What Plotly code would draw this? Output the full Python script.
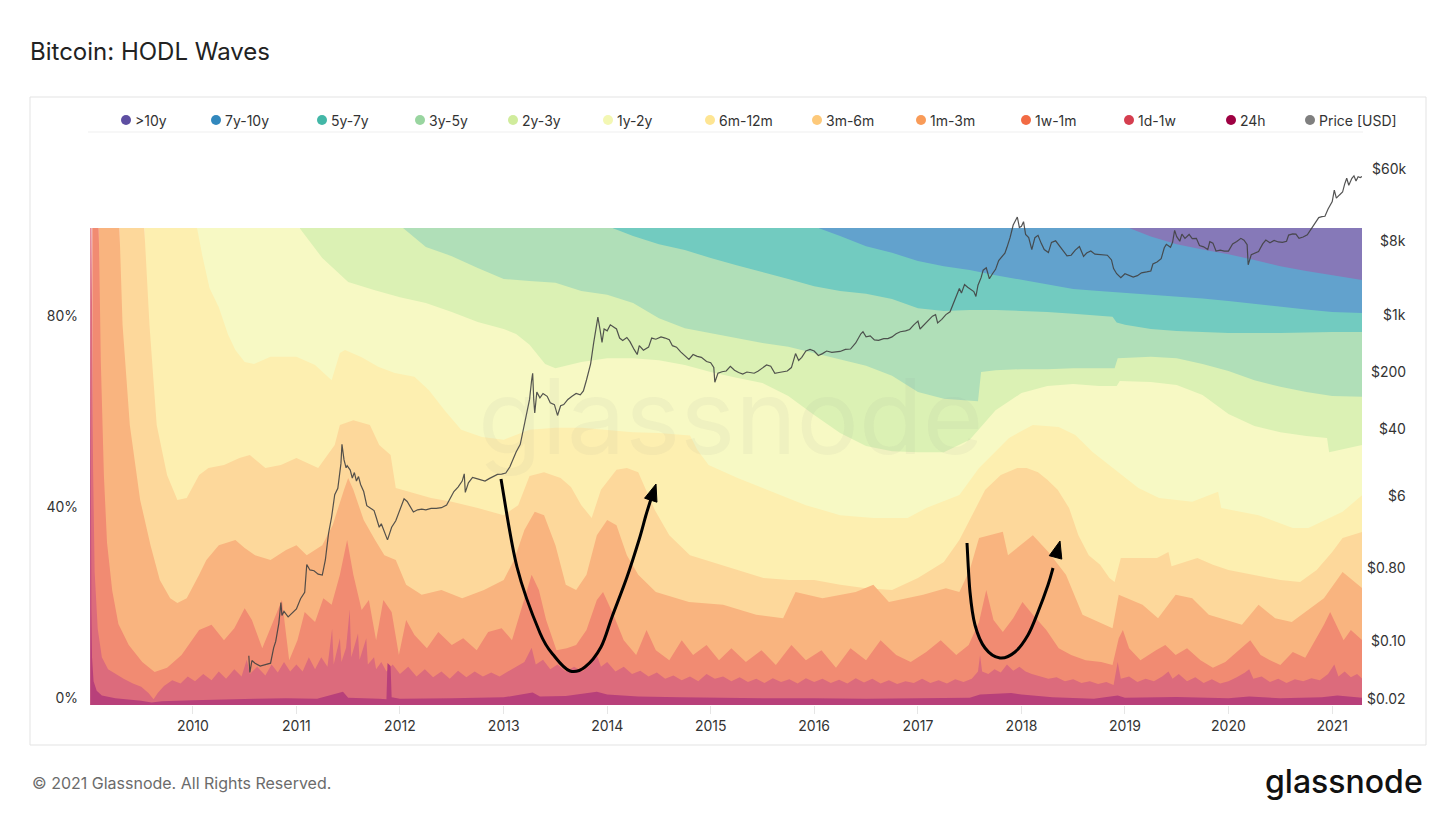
import numpy as np
import pandas as pd
import plotly.graph_objects as go

# ---------------- DATA ----------------
X_START, X_END = "2009-01-03", "2021-04-16"

# Upper edge of every HODL band = cumulative % of supply, as (decimal year, %)
wave_10y = [(2019.04, 100), (2021.29, 100)]

wave_7y10y = [(2016.04, 100), (2019.04, 100), (2019.25, 98.2), (2019.5, 96.6), (2019.75, 95.5),
              (2020.0, 94.5), (2020.25, 93.3), (2020.5, 92.0), (2020.75, 91.0), (2021.0, 90.1),
              (2021.29, 89.1)]

wave_5y7y = [(2014.05, 100), (2016.04, 100), (2016.25, 98.3), (2016.5, 96.2), (2016.75, 94.8),
             (2017.0, 93.1), (2017.25, 92.0), (2017.5, 91.2), (2017.75, 90.1), (2018.0, 89.1),
             (2018.25, 88.1), (2018.5, 87.2), (2018.75, 86.8), (2019.0, 86.4), (2019.25, 86.0),
             (2019.5, 85.7), (2019.75, 85.2), (2020.0, 84.7), (2020.25, 84.1), (2020.5, 83.4),
             (2020.75, 82.9), (2021.0, 82.4), (2021.29, 82.2)]

wave_3y5y = [(2012.03, 100), (2014.05, 100), (2014.25, 98.3), (2014.5, 96.6), (2014.75, 95.4),
             (2015.0, 93.7), (2015.25, 92.2), (2015.5, 90.8), (2015.75, 89.3), (2016.0, 87.8),
             (2016.25, 86.8), (2016.5, 86.2), (2016.75, 85.1), (2017.0, 83.2), (2017.25, 82.6),
             (2017.5, 82.8), (2017.75, 82.8), (2018.0, 82.6), (2018.25, 82.4), (2018.5, 82.0),
             (2018.75, 81.6), (2018.88, 81.4), (2018.92, 80.2), (2019.0, 79.7), (2019.25, 78.8),
             (2019.5, 78.4), (2020.0, 78.0), (2020.5, 78.0), (2021.0, 78.2), (2021.29, 78.2)]

wave_2y3y = [(2011.03, 100), (2012.03, 100), (2012.25, 96.0), (2012.5, 94.1), (2012.75, 91.6),
             (2013.0, 89.3), (2013.25, 88.9), (2013.5, 88.5), (2013.75, 86.8), (2014.0, 86.0),
             (2014.25, 84.3), (2014.5, 81.1), (2014.75, 79.0), (2015.0, 78.0), (2015.25, 76.9),
             (2015.5, 75.9), (2015.75, 75.1), (2016.0, 73.8), (2016.25, 72.5), (2016.5, 71.1),
             (2016.75, 69.0), (2017.0, 65.6), (2017.25, 64.2), (2017.5, 63.9), (2017.58, 63.7),
             (2017.61, 69.8), (2017.75, 70.2), (2018.0, 70.4), (2018.25, 70.4), (2018.5, 70.6),
             (2018.75, 70.6), (2018.9, 70.6), (2018.93, 72.7), (2019.25, 73.0), (2019.5, 72.7),
             (2019.75, 71.5), (2020.0, 70.0), (2020.25, 68.1), (2020.5, 66.7), (2020.75, 65.6),
             (2021.0, 64.8), (2021.29, 64.6)]

wave_1y2y = [(2010.04, 100), (2011.03, 100), (2011.25, 93.7), (2011.5, 88.7), (2011.75, 87.0),
             (2012.0, 85.5), (2012.25, 84.3), (2012.5, 82.4), (2012.75, 80.3), (2013.0, 78.8),
             (2013.12, 77.8), (2013.25, 75.5), (2013.4, 71.5), (2013.5, 70.6), (2013.75, 71.9),
             (2014.0, 72.7), (2014.25, 72.7), (2014.5, 72.3), (2014.75, 71.3), (2015.0, 69.8),
             (2015.25, 68.6), (2015.5, 67.5), (2015.75, 64.8), (2016.0, 60.8), (2016.25, 57.0),
             (2016.5, 54.3), (2016.75, 53.2), (2017.0, 53.0), (2017.25, 53.0), (2017.5, 55.6),
             (2017.75, 61.8), (2018.0, 65.4), (2018.25, 66.9), (2018.5, 67.3), (2018.75, 66.9),
             (2018.92, 66.9), (2018.95, 67.9), (2019.25, 67.7), (2019.5, 67.1), (2019.75, 65.0),
             (2020.0, 61.0), (2020.25, 58.5), (2020.5, 57.2), (2020.75, 56.4), (2020.95, 56.0),
             (2020.97, 53.0), (2021.29, 54.5)]

wave_6m12m = [(2009.53, 100), (2010.04, 100), (2010.09, 94.3), (2010.16, 87.4), (2010.25, 83.4),
              (2010.34, 77.6), (2010.41, 74.4), (2010.5, 71.9), (2010.59, 71.5), (2010.75, 73.0),
              (2011.0, 73.0), (2011.18, 71.3), (2011.34, 68.1), (2011.42, 73.8), (2011.47, 74.4),
              (2011.63, 72.9), (2011.79, 70.9), (2011.95, 69.6), (2012.14, 68.8), (2012.28, 66.0),
              (2012.43, 61.8), (2012.59, 57.7), (2012.79, 56.2), (2013.0, 55.6), (2013.25, 57.7),
              (2013.5, 58.1), (2013.75, 58.1), (2014.0, 57.7), (2014.25, 57.2), (2014.5, 57.0),
              (2014.8, 56.5), (2014.87, 53.5), (2014.98, 50.3), (2015.26, 47.6), (2015.6, 44.7),
              (2015.92, 41.9), (2016.25, 39.8), (2016.57, 39.2), (2016.9, 39.2), (2017.08, 41.3),
              (2017.4, 44.0), (2017.59, 49.7), (2017.88, 56.0), (2018.11, 58.7), (2018.36, 58.3),
              (2018.52, 56.6), (2018.69, 53.0), (2018.94, 48.8), (2019.13, 45.5), (2019.33, 43.4),
              (2019.65, 42.6), (2019.9, 44.7), (2019.93, 41.3), (2020.29, 39.8), (2020.62, 37.1),
              (2020.77, 37.1), (2021.1, 40.5), (2021.29, 44.0)]

wave_3m6m = [(2009.29, 100), (2009.53, 100), (2009.58, 79.7), (2009.65, 58.7), (2009.75, 48.2),
             (2009.85, 43.0), (2009.94, 43.4), (2010.06, 48.2), (2010.15, 49.7), (2010.30, 50.3),
             (2010.45, 51.8), (2010.55, 52.4), (2010.70, 49.7), (2010.85, 50.3), (2011.0, 51.8),
             (2011.21, 49.7), (2011.37, 54.5), (2011.42, 58.7), (2011.55, 59.7), (2011.71, 58.7),
             (2011.80, 54.5), (2011.91, 52.4), (2011.96, 45.5), (2012.10, 44.7), (2012.30, 43.4),
             (2012.50, 42.6), (2012.75, 41.3), (2013.0, 39.8), (2013.14, 41.9), (2013.25, 48.0),
             (2013.39, 48.8), (2013.55, 47.6), (2013.65, 45.7), (2013.75, 41.9), (2013.85, 39.2),
             (2013.94, 45.1), (2014.09, 49.3), (2014.19, 49.7), (2014.30, 48.8), (2014.46, 40.9),
             (2014.60, 35.6), (2014.80, 31.4), (2015.0, 30.0), (2015.26, 28.3), (2015.51, 26.6),
             (2015.76, 26.2), (2016.0, 26.2), (2016.25, 25.2), (2016.5, 24.5), (2016.75, 24.1),
             (2017.0, 26.6), (2017.25, 30.0), (2017.40, 34.6), (2017.55, 40.9), (2017.65, 45.1),
             (2017.80, 48.2), (2017.96, 49.7), (2018.05, 49.7), (2018.16, 48.8), (2018.25, 47.2),
             (2018.35, 45.1), (2018.46, 41.3), (2018.55, 35.6), (2018.65, 31.4), (2018.76, 29.4),
             (2018.85, 26.6), (2018.90, 25.8), (2018.96, 30.8), (2019.10, 30.8), (2019.31, 30.8),
             (2019.42, 32.1), (2019.45, 29.1), (2019.70, 30.8), (2019.85, 29.4), (2020.0, 28.3),
             (2020.25, 27.3), (2020.5, 26.2), (2020.69, 25.8), (2020.85, 28.3), (2021.0, 32.1),
             (2021.10, 35.0), (2021.29, 36.3)]

wave_1m3m = [(2009.09, 100), (2009.29, 100), (2009.32, 79.7), (2009.39, 58.7), (2009.49, 43.0),
             (2009.59, 33.5), (2009.68, 26.2), (2009.78, 22.4), (2009.85, 21.4), (2009.94, 22.4),
             (2010.06, 27.3), (2010.13, 30.4), (2010.25, 33.5), (2010.41, 34.6), (2010.50, 32.9),
             (2010.60, 31.4), (2010.75, 30.4), (2010.90, 32.5), (2011.0, 33.5), (2011.10, 31.4),
             (2011.25, 33.5), (2011.35, 37.7), (2011.46, 45.1), (2011.50, 47.6), (2011.55, 45.1),
             (2011.65, 38.8), (2011.76, 34.6), (2011.85, 31.4), (2011.96, 30.4), (2012.06, 25.2),
             (2012.21, 23.1), (2012.40, 24.1), (2012.60, 22.4), (2012.81, 24.1), (2013.0, 26.2),
             (2013.10, 30.4), (2013.20, 36.7), (2013.30, 40.5), (2013.39, 39.8), (2013.50, 33.5),
             (2013.60, 25.2), (2013.70, 24.1), (2013.80, 27.3), (2013.90, 35.6), (2014.0, 38.8),
             (2014.09, 37.7), (2014.19, 31.4), (2014.30, 27.3), (2014.47, 23.7), (2014.79, 21.6),
             (2015.12, 21.0), (2015.44, 18.9), (2015.70, 18.2), (2015.82, 23.7), (2016.08, 22.4),
             (2016.40, 23.7), (2016.57, 25.2), (2016.72, 21.6), (2017.05, 23.1), (2017.27, 24.5),
             (2017.40, 23.7), (2017.50, 28.3), (2017.59, 35.0), (2017.82, 36.3), (2017.87, 31.4),
             (2018.11, 35.6), (2018.26, 32.1), (2018.43, 27.3), (2018.59, 18.9), (2018.88, 16.1),
             (2018.94, 23.1), (2019.17, 21.0), (2019.32, 18.2), (2019.49, 23.1), (2019.65, 22.4),
             (2019.81, 18.9), (2020.13, 16.8), (2020.29, 21.0), (2020.45, 18.2), (2020.61, 17.4),
             (2020.92, 22.4), (2021.10, 27.9), (2021.29, 24.5)]

wave_1w1m = [(2009.027, 100), (2009.09, 100), (2009.11, 72), (2009.14, 48), (2009.17, 34),
             (2009.22, 24), (2009.28, 17), (2009.38, 12.6), (2009.51, 9.0), (2009.63, 6.9),
             (2009.75, 7.8), (2009.89, 10.5), (2010.06, 15.7), (2010.18, 16.8), (2010.30, 13.6),
             (2010.40, 16.1), (2010.50, 20.3), (2010.57, 17.8), (2010.67, 11.9), (2010.76, 16.8),
             (2010.86, 22.0), (2010.93, 9.4), (2011.01, 13.6), (2011.08, 19.5), (2011.18, 17.4),
             (2011.26, 22.4), (2011.34, 21.0), (2011.42, 27.3), (2011.49, 34.6), (2011.55, 27.3),
             (2011.63, 19.9), (2011.70, 22.0), (2011.77, 13.6), (2011.84, 22.0), (2011.92, 19.5),
             (2011.99, 10.5), (2012.06, 17.8), (2012.14, 14.7), (2012.26, 11.9), (2012.37, 15.3),
             (2012.50, 12.6), (2012.61, 14.0), (2012.74, 11.5), (2012.85, 15.3), (2012.98, 16.1),
             (2013.08, 13.6), (2013.17, 19.9), (2013.27, 27.3), (2013.34, 24.1), (2013.41, 17.8),
             (2013.51, 11.5), (2013.61, 11.9), (2013.70, 12.6), (2013.80, 15.7), (2013.90, 22.0),
             (2013.96, 23.7), (2014.06, 18.9), (2014.16, 13.6), (2014.28, 10.5), (2014.38, 15.7),
             (2014.47, 11.5), (2014.60, 9.4), (2014.72, 13.6), (2014.83, 10.5), (2014.96, 12.6),
             (2015.08, 9.4), (2015.20, 11.9), (2015.34, 9.0), (2015.49, 11.5), (2015.63, 8.4),
             (2015.78, 12.6), (2015.92, 9.4), (2016.07, 11.5), (2016.21, 7.8), (2016.35, 11.9),
             (2016.50, 9.4), (2016.64, 13.6), (2016.79, 10.5), (2016.93, 9.0), (2017.08, 11.1),
             (2017.22, 13.6), (2017.37, 10.5), (2017.49, 12.6), (2017.59, 17.4), (2017.66, 24.1),
             (2017.73, 17.8), (2017.82, 15.3), (2017.92, 18.2), (2018.01, 21.6), (2018.11, 18.9),
             (2018.24, 15.7), (2018.36, 11.9), (2018.48, 10.5), (2018.62, 9.4), (2018.77, 9.0),
             (2018.88, 8.4), (2018.94, 14.0), (2018.98, 15.7), (2019.04, 11.9), (2019.15, 9.4),
             (2019.30, 11.5), (2019.39, 12.6), (2019.49, 10.5), (2019.60, 11.9), (2019.73, 9.4),
             (2019.85, 7.8), (2019.97, 9.0), (2020.10, 11.5), (2020.21, 13.6), (2020.31, 10.5),
             (2020.40, 9.4), (2020.50, 8.4), (2020.62, 11.1), (2020.74, 9.9), (2020.84, 13.6),
             (2020.92, 16.8), (2020.98, 19.5), (2021.04, 16.8), (2021.11, 13.6), (2021.18, 15.7),
             (2021.29, 13.6)]

wave_1d1w = [(2009.008, 100), (2009.02, 100), (2009.035, 50), (2009.05, 28), (2009.08, 16),
             (2009.12, 10), (2009.18, 7.5), (2009.25, 6.5), (2009.33, 5.5), (2009.42, 4.5),
             (2009.5, 3.8), (2009.57, 2.5), (2009.62, 1.2), (2009.66, 2.5), (2009.72, 4.0),
             (2009.8, 5.2), (2009.88, 4.5), (2009.95, 6.0), (2010.02, 5.0), (2010.1, 6.5),
             (2010.18, 5.2), (2010.25, 7.0), (2010.32, 5.5), (2010.4, 7.5), (2010.47, 6.0),
             (2010.52, 9.5), (2010.55, 6.5), (2010.62, 8.0), (2010.7, 6.2), (2010.76, 8.5),
             (2010.82, 6.8), (2010.88, 9.0), (2010.94, 7.0), (2011.0, 8.5), (2011.06, 7.0),
             (2011.12, 10.0), (2011.18, 7.5), (2011.24, 10.0), (2011.3, 8.0), (2011.345, 16.0),
             (2011.36, 8.5), (2011.42, 14.0), (2011.435, 9.0), (2011.48, 12.0), (2011.515, 20.0),
             (2011.53, 10.0), (2011.595, 15.0), (2011.61, 9.5), (2011.675, 14.0), (2011.69, 8.5),
             (2011.75, 10.0), (2011.77, 7.5), (2011.82, 9.0), (2011.87, 7.0), (2011.93, 8.5),
             (2012.0, 6.5), (2012.08, 8.0), (2012.16, 6.0), (2012.24, 7.5), (2012.32, 5.8),
             (2012.4, 7.0), (2012.48, 5.5), (2012.56, 7.2), (2012.64, 5.8), (2012.72, 7.0),
             (2012.8, 6.0), (2012.88, 6.8), (2012.96, 6.0), (2013.04, 7.0), (2013.12, 8.0),
             (2013.2, 9.0), (2013.27, 12.0), (2013.31, 8.5), (2013.38, 9.5), (2013.45, 7.5),
             (2013.52, 8.5), (2013.6, 7.0), (2013.68, 8.0), (2013.76, 7.0), (2013.84, 8.5),
             (2013.9, 10.5), (2013.94, 8.0), (2014.0, 9.0), (2014.08, 7.0), (2014.16, 8.0),
             (2014.24, 6.5), (2014.32, 7.2), (2014.4, 6.0), (2014.48, 6.8), (2014.56, 5.5),
             (2014.64, 6.2), (2014.72, 5.2), (2014.8, 6.0), (2014.88, 5.0), (2014.96, 6.5),
             (2015.04, 5.5), (2015.12, 6.0), (2015.2, 5.0), (2015.28, 5.8), (2015.36, 4.8),
             (2015.44, 5.5), (2015.52, 4.6), (2015.6, 5.6), (2015.68, 4.8), (2015.76, 5.4),
             (2015.84, 4.5), (2015.92, 5.6), (2016.0, 4.8), (2016.08, 5.5), (2016.16, 4.6),
             (2016.24, 5.3), (2016.32, 4.5), (2016.4, 5.6), (2016.48, 4.7), (2016.56, 5.5),
             (2016.64, 4.5), (2016.72, 5.2), (2016.8, 4.4), (2016.88, 5.0), (2016.96, 4.6),
             (2017.04, 5.5), (2017.12, 4.6), (2017.2, 5.2), (2017.28, 4.5), (2017.36, 5.4),
             (2017.44, 4.8), (2017.52, 5.5), (2017.58, 7.0), (2017.6, 10.5), (2017.62, 7.0),
             (2017.68, 6.5), (2017.74, 7.5), (2017.8, 6.8), (2017.86, 8.5), (2017.92, 7.2),
             (2017.98, 8.0), (2018.04, 7.0), (2018.1, 6.5), (2018.18, 6.0), (2018.26, 5.5),
             (2018.34, 5.8), (2018.42, 5.0), (2018.5, 5.4), (2018.58, 4.6), (2018.66, 5.0),
             (2018.74, 4.4), (2018.82, 4.8), (2018.89, 4.2), (2018.93, 9.0), (2018.96, 5.5),
             (2019.04, 6.0), (2019.12, 4.8), (2019.2, 5.5), (2019.28, 5.0), (2019.36, 6.0),
             (2019.42, 7.0), (2019.46, 5.5), (2019.52, 6.5), (2019.6, 5.0), (2019.68, 5.8),
             (2019.76, 4.6), (2019.84, 5.4), (2019.92, 4.5), (2020.0, 5.0), (2020.08, 5.8),
             (2020.16, 6.8), (2020.2, 7.5), (2020.24, 5.5), (2020.32, 6.0), (2020.4, 4.8),
             (2020.48, 5.5), (2020.56, 4.6), (2020.64, 5.4), (2020.72, 5.0), (2020.8, 5.6),
             (2020.88, 5.2), (2020.96, 6.5), (2021.02, 8.5), (2021.06, 6.0), (2021.12, 7.0),
             (2021.18, 5.8), (2021.24, 6.5), (2021.29, 5.5)]

wave_24h = [(2009.008, 100), (2009.012, 50), (2009.018, 20), (2009.025, 10), (2009.04, 5),
            (2009.07, 3), (2009.12, 2.0), (2009.25, 1.4), (2009.5, 0.9), (2009.6, 0.5),
            (2009.7, 0.8), (2010.0, 1.0), (2010.3, 1.2), (2010.6, 1.3), (2010.9, 1.4),
            (2011.2, 1.3), (2011.45, 2.8), (2011.5, 1.5), (2011.8, 1.3), (2011.87, 1.2),
            (2011.88, 8.8), (2011.91, 8.2), (2011.92, 1.6), (2012.0, 1.3), (2012.5, 1.4),
            (2013.0, 1.6), (2013.28, 2.6), (2013.35, 1.8), (2013.6, 1.9), (2013.9, 2.8),
            (2014.0, 2.2), (2014.3, 1.8), (2014.7, 1.6), (2015.0, 1.5), (2015.5, 1.4),
            (2016.0, 1.4), (2016.5, 1.3), (2017.0, 1.4), (2017.5, 1.5), (2017.6, 2.2),
            (2017.9, 2.5), (2018.0, 2.2), (2018.3, 1.6), (2018.7, 1.3), (2018.93, 2.0),
            (2019.0, 1.5), (2019.5, 1.7), (2020.0, 1.4), (2020.2, 1.8), (2020.5, 1.4),
            (2020.9, 1.6), (2021.05, 2.0), (2021.29, 1.5)]

# BTC price in USD, (decimal year, price)
price_usd = [
    (2010.54, 0.08), (2010.55, 0.05), (2010.57, 0.07), (2010.60, 0.065), (2010.65, 0.06),
    (2010.70, 0.062), (2010.75, 0.065), (2010.78, 0.10), (2010.80, 0.12), (2010.83, 0.20),
    (2010.85, 0.36), (2010.86, 0.25), (2010.88, 0.28), (2010.92, 0.24), (2010.96, 0.27),
    (2011.00, 0.30), (2011.04, 0.40), (2011.08, 0.48), (2011.10, 1.05), (2011.13, 0.90),
    (2011.17, 0.88), (2011.21, 0.80), (2011.25, 0.78), (2011.28, 1.2), (2011.31, 2.5),
    (2011.34, 4.0), (2011.37, 7.5), (2011.40, 9.0), (2011.43, 18), (2011.44, 31),
    (2011.46, 20), (2011.48, 16), (2011.49, 17), (2011.52, 15), (2011.54, 12),
    (2011.56, 14), (2011.58, 11), (2011.60, 12.5), (2011.62, 10), (2011.65, 8.2),
    (2011.68, 5.5), (2011.71, 5.2), (2011.75, 4.8), (2011.77, 4.0), (2011.80, 3.0),
    (2011.82, 3.3), (2011.85, 2.6), (2011.88, 2.1), (2011.90, 2.5), (2011.92, 3.0),
    (2011.96, 3.6), (2012.00, 4.8), (2012.04, 6.7), (2012.07, 6.2), (2012.10, 5.3),
    (2012.13, 4.6), (2012.17, 4.9), (2012.21, 5.0), (2012.25, 4.9), (2012.30, 5.1),
    (2012.35, 5.1), (2012.40, 5.2), (2012.45, 5.6), (2012.48, 6.6), (2012.52, 8.2),
    (2012.56, 9.3), (2012.60, 11.0), (2012.62, 13.5), (2012.63, 8.0), (2012.66, 10.5),
    (2012.70, 12.2), (2012.74, 11.8), (2012.78, 11.5), (2012.82, 11.0), (2012.86, 11.8),
    (2012.90, 12.4), (2012.94, 13.3), (2012.98, 13.4), (2013.02, 13.8), (2013.06, 16.5),
    (2013.09, 20.5), (2013.12, 25), (2013.16, 31), (2013.19, 46), (2013.22, 75),
    (2013.25, 110), (2013.27, 190), (2013.28, 230), (2013.29, 110), (2013.30, 75),
    (2013.32, 135), (2013.35, 115), (2013.38, 130), (2013.42, 120), (2013.45, 100),
    (2013.49, 95), (2013.52, 70), (2013.55, 92), (2013.58, 95), (2013.62, 110),
    (2013.66, 120), (2013.70, 130), (2013.74, 125), (2013.77, 140), (2013.80, 190),
    (2013.84, 300), (2013.87, 550), (2013.91, 1120), (2013.93, 800), (2013.95, 550),
    (2013.97, 800), (2014.00, 760), (2014.03, 900), (2014.06, 850), (2014.09, 800),
    (2014.12, 620), (2014.15, 580), (2014.19, 630), (2014.22, 560), (2014.26, 450),
    (2014.29, 390), (2014.31, 500), (2014.35, 440), (2014.40, 480), (2014.43, 620),
    (2014.47, 600), (2014.52, 640), (2014.56, 620), (2014.60, 590), (2014.63, 500),
    (2014.67, 480), (2014.71, 420), (2014.75, 380), (2014.79, 340), (2014.83, 390),
    (2014.87, 370), (2014.91, 360), (2014.96, 320), (2015.00, 310), (2015.03, 270),
    (2015.04, 178), (2015.07, 230), (2015.11, 240), (2015.15, 245), (2015.19, 280),
    (2015.23, 250), (2015.27, 235), (2015.31, 225), (2015.35, 238), (2015.38, 235),
    (2015.42, 230), (2015.46, 245), (2015.50, 265), (2015.54, 290), (2015.58, 280),
    (2015.62, 230), (2015.66, 235), (2015.70, 238), (2015.74, 245), (2015.78, 270),
    (2015.82, 400), (2015.85, 330), (2015.88, 360), (2015.92, 430), (2015.96, 450),
    (2016.00, 430), (2016.04, 380), (2016.08, 400), (2016.12, 430), (2016.17, 415),
    (2016.21, 420), (2016.25, 425), (2016.30, 450), (2016.35, 455), (2016.40, 540),
    (2016.45, 700), (2016.47, 740), (2016.50, 640), (2016.54, 660), (2016.58, 590),
    (2016.62, 580), (2016.67, 610), (2016.71, 610), (2016.75, 640), (2016.79, 700),
    (2016.83, 740), (2016.88, 760), (2016.92, 790), (2016.96, 900), (2017.00, 1000),
    (2017.02, 800), (2017.06, 900), (2017.10, 1000), (2017.14, 1150), (2017.17, 1200),
    (2017.19, 950), (2017.23, 1050), (2017.27, 1200), (2017.31, 1300), (2017.35, 1700),
    (2017.38, 2100), (2017.40, 2500), (2017.42, 2200), (2017.45, 2800), (2017.48, 2600),
    (2017.50, 2500), (2017.54, 2300), (2017.56, 2000), (2017.58, 2750), (2017.61, 3400),
    (2017.63, 4200), (2017.66, 4500), (2017.69, 3300), (2017.72, 3800), (2017.75, 4300),
    (2017.78, 5500), (2017.81, 6100), (2017.84, 6800), (2017.86, 8000), (2017.89, 10500),
    (2017.92, 15000), (2017.96, 18800), (2017.98, 14000), (2018.00, 14500), (2018.02, 16500),
    (2018.04, 11500), (2018.07, 10500), (2018.10, 7500), (2018.13, 10500), (2018.16, 11200),
    (2018.19, 9000), (2018.22, 7500), (2018.26, 6900), (2018.29, 9200), (2018.33, 9600),
    (2018.37, 8300), (2018.40, 7500), (2018.44, 6300), (2018.48, 6400), (2018.52, 7400),
    (2018.56, 8200), (2018.60, 6200), (2018.63, 6800), (2018.67, 7200), (2018.71, 6600),
    (2018.75, 6500), (2018.79, 6400), (2018.83, 6400), (2018.87, 5600), (2018.89, 4400),
    (2018.92, 3800), (2018.96, 3400), (2019.00, 3800), (2019.04, 3600), (2019.08, 3450),
    (2019.12, 3600), (2019.16, 3900), (2019.21, 4000), (2019.25, 4100), (2019.27, 5000),
    (2019.31, 5300), (2019.35, 5800), (2019.38, 7900), (2019.40, 8700), (2019.44, 8000),
    (2019.46, 9200), (2019.48, 12900), (2019.50, 10800), (2019.53, 9500), (2019.55, 11600),
    (2019.58, 10300), (2019.62, 11500), (2019.65, 10200), (2019.69, 10300), (2019.72, 8400),
    (2019.76, 8100), (2019.80, 7500), (2019.82, 9400), (2019.85, 9000), (2019.88, 7200),
    (2019.92, 7400), (2019.96, 7200), (2020.00, 7200), (2020.04, 8800), (2020.08, 9400),
    (2020.12, 10300), (2020.15, 9800), (2020.18, 8600), (2020.19, 4900), (2020.22, 6500),
    (2020.25, 6700), (2020.29, 7100), (2020.33, 8800), (2020.36, 9800), (2020.40, 9100),
    (2020.44, 9700), (2020.48, 9300), (2020.52, 9200), (2020.56, 9500), (2020.58, 11300),
    (2020.62, 11700), (2020.65, 11600), (2020.68, 10300), (2020.72, 10700), (2020.76, 11400),
    (2020.79, 13100), (2020.83, 15300), (2020.87, 18500), (2020.90, 19000), (2020.93, 19200),
    (2020.96, 23500), (2021.00, 29000), (2021.02, 40000), (2021.04, 32000), (2021.07, 35000),
    (2021.10, 38000), (2021.12, 47500), (2021.14, 56000), (2021.16, 46000), (2021.19, 56000),
    (2021.21, 60000), (2021.23, 52000), (2021.25, 58500), (2021.27, 57000), (2021.29, 59000)]

band_names = [">10y", "7y-10y", "5y-7y", "3y-5y", "2y-3y", "1y-2y",
              "6m-12m", "3m-6m", "1m-3m", "1w-1m", "1d-1w", "24h"]
band_waves = [wave_10y, wave_7y10y, wave_5y7y, wave_3y5y, wave_2y3y, wave_1y2y,
              wave_6m12m, wave_3m6m, wave_1m3m, wave_1w1m, wave_1d1w, wave_24h]
legend_colors = ["#5e4fa2", "#3288bd", "#43b7a7", "#99d5a0", "#d0ec9c", "#f3f7b3",
                 "#fee593", "#fdc97a", "#f99b58", "#f26b44", "#d53e4f", "#9e0142"]
fill_colors = ["#8679b8", "#62a2cd", "#72cbc0", "#b0dfb8", "#dbf1b4", "#f7f9c4",
               "#fdefb0", "#fdd89b", "#f9b47f", "#f18b72", "#dc6b7c", "#b8407a"]

pct_ticks = [0, 40, 80]
pct_labels = ["0%", "40%", "80%"]
price_ticks = [0.02, 0.1, 0.8, 6, 40, 200, 1000, 8000, 60000]
price_labels = ["$0.02", "$0.10", "$0.80", "$6", "$40", "$200", "$1k", "$8k", "$60k"]
year_ticks = list(range(2010, 2022))


# ---------------- helpers ----------------
def to_dates(years):
    out = []
    for v in years:
        y = int(np.floor(v))
        a = pd.Timestamp(year=y, month=1, day=1)
        b = pd.Timestamp(year=y + 1, month=1, day=1)
        out.append(a + (b - a) * (v - y))
    return out


W, H = 1456, 819
OFF = 8                                # the page adds an 8 px body margin
PL, PR, PT, PB = 90, 1362, 160, 705    # plot area as seen on the page


def fx(px):
    return (px - PL) / (PR - PL)


def fy(py):
    return (PB - py) / (PB - PT)


# ---------------- figure ----------------
fig = go.Figure()

# Paint bands from the oldest (tallest) to the youngest so each upper edge shows.
for name, wave, fc in zip(band_names, band_waves, fill_colors):
    t, v = zip(*wave)
    fig.add_trace(go.Scatter(
        x=to_dates(t), y=list(v), name=name, mode="lines",
        line=dict(width=0, color=fc), fill="tozeroy", fillcolor=fc,
        hoverinfo="skip", showlegend=False))

pt, pv = zip(*price_usd)
fig.add_trace(go.Scatter(
    x=to_dates(pt), y=list(pv), name="Price [USD]", yaxis="y2", mode="lines",
    line=dict(color="rgba(65,65,65,0.9)", width=1.2), hoverinfo="skip", showlegend=False))

pct_top = (PB - PT) / 4.77          # 100% sits at y=228 px
log_lo = np.log10(0.02)
log_hi = log_lo + (PB - PT) / 81.7  # 81.7 px per decade

shapes = []
annotations = []

# outer frame + legend separator
shapes.append(dict(type="rect", xref="paper", yref="paper", x0=fx(30), x1=fx(1426),
                   y0=fy(745), y1=fy(97), line=dict(color="#e3e3e3", width=1), layer="below"))
shapes.append(dict(type="line", xref="paper", yref="paper", x0=fx(88), x1=fx(1363),
                   y0=fy(132), y1=fy(132), line=dict(color="#efefef", width=1)))

# legend row (dots + labels)
leg_x = [126, 216, 322, 420, 513, 608, 710, 817, 921, 1026, 1129, 1231, 1310]
leg_names = band_names + ["Price [USD]"]
leg_cols = legend_colors + ["#7f7f7f"]
for cx, nm, col in zip(leg_x, leg_names, leg_cols):
    shapes.append(dict(type="circle", xref="paper", yref="paper",
                       xsizemode="pixel", ysizemode="pixel",
                       xanchor=fx(cx), yanchor=fy(120), x0=-5, x1=5, y0=-5, y1=5,
                       fillcolor=col, line=dict(width=0)))
    annotations.append(dict(text=nm, xref="paper", yref="paper", x=fx(cx + 7), y=fy(120),
                            xanchor="left", yanchor="middle", showarrow=False,
                            font=dict(size=14, color="#333")))

# price axis labels, right aligned just above their tick value
for v, lab in zip(price_ticks, price_labels):
    annotations.append(dict(text=lab, xref="paper", yref="y2", x=fx(1408), y=np.log10(v),
                            xanchor="right", yanchor="middle", yshift=7, showarrow=False,
                            font=dict(size=14, color="#333")))


# hand drawn arrows (smooth Catmull-Rom curves + heads)
def curve_path(pts):
    p = [pts[0]] + pts + [pts[-1]]
    d = "M {:.5f},{:.5f}".format(fx(pts[0][0]), fy(pts[0][1]))
    for i in range(1, len(p) - 2):
        p0, p1, p2, p3 = p[i - 1], p[i], p[i + 1], p[i + 2]
        c1 = (p1[0] + (p2[0] - p0[0]) / 6, p1[1] + (p2[1] - p0[1]) / 6)
        c2 = (p2[0] - (p3[0] - p1[0]) / 6, p2[1] - (p3[1] - p1[1]) / 6)
        d += " C {:.5f},{:.5f} {:.5f},{:.5f} {:.5f},{:.5f}".format(
            fx(c1[0]), fy(c1[1]), fx(c2[0]), fy(c2[1]), fx(p2[0]), fy(p2[1]))
    return d


def head_path(base, tip, half=6.5):
    dx, dy = tip[0] - base[0], tip[1] - base[1]
    n = (dx * dx + dy * dy) ** 0.5
    ux, uy = dx / n, dy / n
    bx, by = tip[0] - ux * 17, tip[1] - uy * 17
    a = (bx - uy * half, by + ux * half)
    b = (bx + uy * half, by - ux * half)
    return "M {:.5f},{:.5f} L {:.5f},{:.5f} L {:.5f},{:.5f} Z".format(
        fx(tip[0]), fy(tip[1]), fx(a[0]), fy(a[1]), fx(b[0]), fy(b[1]))


arrow1 = [(501, 479), (517, 567), (540, 633), (555, 657), (570, 671), (585, 667),
          (601, 647), (612, 617), (627, 577), (639, 540), (646, 515), (651, 499)]
arrow2 = [(967, 543), (970, 592), (975, 625), (985, 648), (1000, 658), (1015, 652),
          (1028, 635), (1038, 612), (1048, 585), (1053, 568)]
for pts, tip in [(arrow1, (656, 484)), (arrow2, (1060, 541))]:
    shapes.append(dict(type="path", xref="paper", yref="paper", path=curve_path(pts),
                       line=dict(color="black", width=3), layer="above"))
    shapes.append(dict(type="path", xref="paper", yref="paper", path=head_path(pts[-2], tip),
                       fillcolor="black", line=dict(color="black", width=1), layer="above"))

# watermark, footer and logo
annotations.append(dict(text="glassnode", xref="paper", yref="paper", x=fx(730), y=fy(416),
                        xanchor="center", yanchor="middle", showarrow=False,
                        font=dict(size=104, color="rgba(140,140,140,0.07)", family="Inter")))
annotations.append(dict(text="© 2021 Glassnode. All Rights Reserved.", xref="paper", yref="paper",
                        x=fx(30), y=fy(783), xanchor="left", yanchor="middle", showarrow=False,
                        font=dict(size=16, color="#6b6b6b")))
annotations.append(dict(text="glassnode", xref="paper", yref="paper", x=fx(1425), y=fy(781),
                        xanchor="right", yanchor="middle", showarrow=False,
                        font=dict(size=32, color="#111", family="Inter", weight=500)))

fig.update_layout(
    width=W, height=H,
    margin=dict(l=PL - OFF, r=W - (PR - OFF), t=PT - OFF, b=H - (PB - OFF)),
    paper_bgcolor="white", plot_bgcolor="white",
    font=dict(family="Inter, Roboto, sans-serif", size=14, color="#333"),
    showlegend=False, hovermode=False,
    title=dict(text="Bitcoin: HODL Waves", x=(30 - OFF) / W, xanchor="left", xref="container",
               y=1 - (52 - OFF) / H, yanchor="middle", yref="container",
               font=dict(size=24, color="#222")),
    xaxis=dict(type="date", range=[X_START, X_END],
               tickvals=[f"{y}-01-01" for y in year_ticks], ticktext=[str(y) for y in year_ticks],
               showgrid=False, zeroline=False, showline=False,
               ticks="outside", ticklen=8, tickcolor="#e6e6e6",
               tickfont=dict(size=14, color="#333")),
    yaxis=dict(range=[0, pct_top], tickvals=pct_ticks, ticktext=pct_labels,
               showgrid=False, zeroline=False, showline=False, ticks="",
               ticklabelposition="outside", ticklabelshift=-7, ticklabelstandoff=11,
               tickfont=dict(size=14, color="#333")),
    yaxis2=dict(type="log", overlaying="y", side="right", range=[log_lo, log_hi],
                tickvals=price_ticks, showticklabels=False,
                showgrid=False, zeroline=False, showline=False, ticks=""),
    shapes=shapes, annotations=annotations,
)

fig.write_html("out.html")
